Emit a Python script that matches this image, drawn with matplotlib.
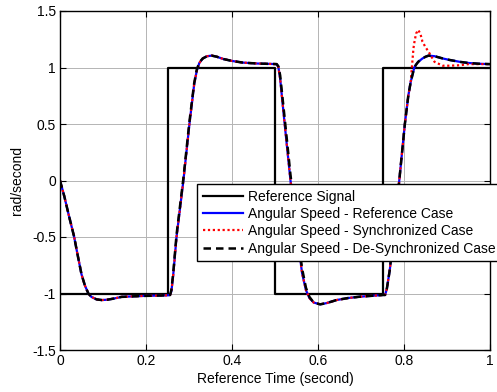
import matplotlib
matplotlib.use("Agg")
import matplotlib.pyplot as plt

plt.rcParams['font.family'] = ['Liberation Sans', 'DejaVu Sans']

# Reference step signal
ref_t = [0.0, 0.25, 0.5, 0.75, 1.0]
ref_v = [-1.0, 1.0, -1.0, 1.0, 1.0]

# Time samples for the speed responses
t = [0, 0.01, 0.02, 0.033, 0.04, 0.05, 0.058, 0.066, 0.073, 0.085, 0.097, 0.11, 0.125, 0.143, 0.19, 0.252,
     0.256, 0.259, 0.263, 0.271, 0.287, 0.301, 0.312, 0.318, 0.324, 0.332, 0.342, 0.353, 0.365, 0.38, 0.4, 0.426, 0.46, 0.496,
     0.504, 0.508, 0.512, 0.5225, 0.536, 0.552, 0.563, 0.572, 0.58, 0.59, 0.605, 0.62, 0.643, 0.67, 0.698, 0.752,
     0.756, 0.76, 0.767, 0.778, 0.789, 0.802, 0.81, 0.8155, 0.822, 0.824, 0.828, 0.833, 0.838, 0.843, 0.85, 0.857,
     0.871, 0.89, 0.907, 0.93, 0.95, 0.975, 1.0]

speed_reference = [0, -0.14, -0.3, -0.5, -0.64, -0.83, -0.93, -1.0, -1.03, -1.052, -1.058, -1.055, -1.045, -1.03, -1.022, -1.016,
                   -1.013, -0.98, -0.85, -0.5, 0.0, 0.5, 0.85, 0.97, 1.04, 1.08, 1.1, 1.105, 1.095, 1.075, 1.058, 1.043, 1.035, 1.031,
                   1.03, 1.0, 0.9, 0.5, 0.0, -0.5, -0.82, -0.97, -1.04, -1.08, -1.096, -1.085, -1.058, -1.04, -1.028, -1.013,
                   -1.013, -0.96, -0.79, -0.4, 0.0, 0.5, 0.75, 0.87, 0.97, 1.0, 1.025, 1.05, 1.065, 1.08, 1.095, 1.105,
                   1.1, 1.08, 1.066, 1.05, 1.04, 1.033, 1.03]

speed_sync = [0, -0.14, -0.3, -0.5, -0.64, -0.83, -0.93, -1.0, -1.03, -1.052, -1.058, -1.055, -1.045, -1.03, -1.022, -1.016,
              -1.013, -0.98, -0.85, -0.5, 0.0, 0.5, 0.85, 0.97, 1.04, 1.08, 1.1, 1.105, 1.095, 1.075, 1.058, 1.043, 1.035, 1.031,
              1.03, 1.0, 0.9, 0.5, 0.0, -0.5, -0.82, -0.97, -1.04, -1.08, -1.096, -1.085, -1.058, -1.04, -1.028, -1.013,
              -1.013, -0.96, -0.79, -0.4, 0.0, 0.5, 0.75, 0.87, 1.17, 1.22, 1.30, 1.332, 1.30, 1.228, 1.18, 1.14,
              1.05, 1.016, 1.016, 1.02, 1.03, 1.03, 1.03]

speed_desync = [0, -0.14, -0.3, -0.5, -0.64, -0.83, -0.93, -1.0, -1.03, -1.052, -1.058, -1.055, -1.045, -1.03, -1.022, -1.016,
                -1.013, -0.97, -0.83, -0.48, 0.02, 0.52, 0.86, 0.98, 1.045, 1.08, 1.1, 1.105, 1.095, 1.075, 1.058, 1.043, 1.035, 1.031,
                1.03, 1.01, 0.93, 0.55, 0.05, -0.45, -0.78, -0.95, -1.03, -1.08, -1.096, -1.085, -1.058, -1.04, -1.028, -1.013,
                -1.013, -0.96, -0.79, -0.4, 0.0, 0.5, 0.75, 0.87, 0.97, 1.0, 1.025, 1.05, 1.065, 1.08, 1.095, 1.105,
                1.1, 1.08, 1.066, 1.05, 1.04, 1.033, 1.03]

x_ticks = [0, 0.2, 0.4, 0.6, 0.8, 1]
x_ticklabels = ['0', '0.2', '0.4', '0.6', '0.8', '1']
y_ticks = [-1.5, -1, -0.5, 0, 0.5, 1, 1.5]
y_ticklabels = ['-1.5', '-1', '-0.5', '0', '0.5', '1', '1.5']

labels = ['Reference Signal', 'Angular Speed - Reference Case',
          'Angular Speed - Synchronized Case', 'Angular Speed - De-Synchronized Case']

fig = plt.figure(figsize=(4.97, 3.92), dpi=100)
ax = fig.add_axes([60/497, 42/392, 430/497, 339/392])

ax.plot(ref_t, ref_v, drawstyle='steps-post', color='black', lw=1.6, label=labels[0])
ax.plot(t, speed_reference, color='#0000ff', lw=1.6, label=labels[1])
ax.plot(t, speed_sync, color='#ff0000', lw=1.6, ls=(0, (1, 1.2)), label=labels[2])
ax.plot(t, speed_desync, color='black', lw=1.8, ls=(0, (3, 2)), label=labels[3])

ax.set_xlim(0, 1)
ax.set_ylim(-1.5, 1.5)
ax.set_xticks(x_ticks)
ax.set_xticklabels(x_ticklabels)
ax.set_yticks(y_ticks)
ax.set_yticklabels(y_ticklabels)
ax.grid(True, color='#b4b4b4', lw=0.7, ls='-')
ax.set_axisbelow(True)
ax.tick_params(direction='in', length=4, width=0.8, top=True, right=True, labelsize=10, colors='black', pad=3)
for s in ax.spines.values():
    s.set_linewidth(1.0)
    s.set_color('black')

ax.set_xlabel('Reference Time (second)', fontsize=10, labelpad=3)
ax.set_ylabel('rad/second', fontsize=10, labelpad=6)

leg = ax.legend(loc='upper left', bbox_to_anchor=(197/497, 1 - 184/392), bbox_transform=fig.transFigure,
                fontsize=10, frameon=True, fancybox=False, edgecolor='black', framealpha=1,
                handlelength=2.9, handletextpad=0.4, labelspacing=0.24, borderpad=0.4, borderaxespad=0)
leg.get_frame().set_linewidth(1.0)

fig.savefig('out.png', dpi=100)
